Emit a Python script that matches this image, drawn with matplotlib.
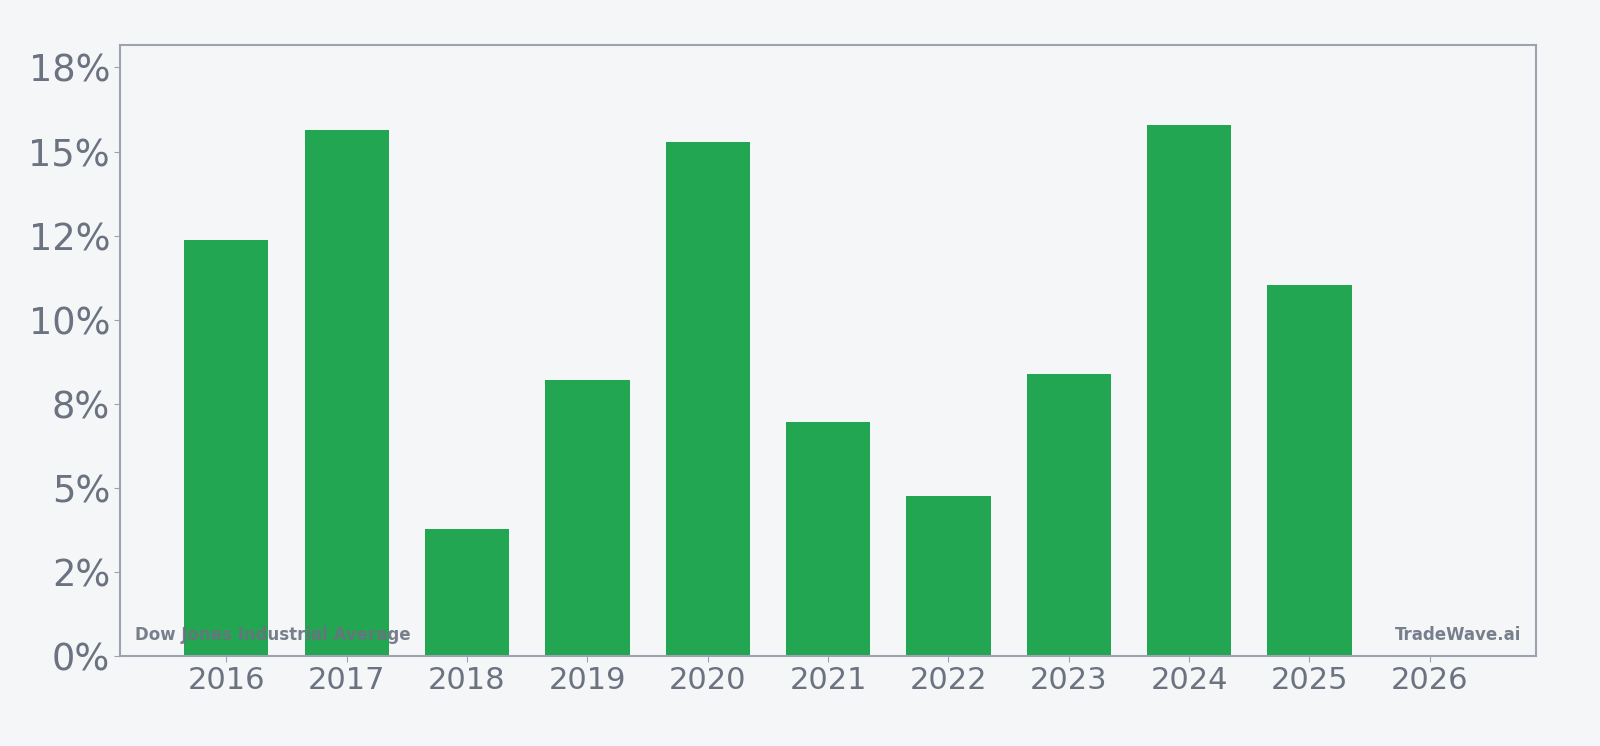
import matplotlib
matplotlib.use("Agg")
import matplotlib.pyplot as plt
from matplotlib.ticker import MultipleLocator, StrMethodFormatter

# yearly returns (%)
years = ["2016", "2017", "2018", "2019", "2020", "2021", "2022", "2023", "2024", "2025", "2026"]
returns = [12.38, 15.63, 3.78, 8.20, 15.27, 6.95, 4.76, 8.38, 15.80, 11.04, 0.0]

bg = "#f4f6f8"
bar_color = "#22a652"
text_color = "#6b7280"
spine_color = "#9ca3af"

fig = plt.figure(figsize=(16, 7.46), dpi=100, facecolor=bg)
ax = fig.add_axes([0.0753, 0.1206, 0.8845, 0.8192])
ax.set_facecolor(bg)

x = list(range(len(years)))
ax.bar(x, returns, width=0.7, color=bar_color, zorder=2)

ax.set_xlim(-0.88, len(years) - 1 + 0.88)
ax.set_ylim(0, max(returns) * 1.15)
ax.set_xticks(x)
ax.set_xticklabels(years)
ax.yaxis.set_major_locator(MultipleLocator(2.5))
ax.yaxis.set_major_formatter(StrMethodFormatter("{x:.0f}%"))

ax.tick_params(axis="y", labelsize=26.5, colors=spine_color, labelcolor=text_color, length=4)
ax.tick_params(axis="x", labelsize=22, colors=spine_color, labelcolor=text_color, length=4)

for s in ax.spines.values():
    s.set_color(spine_color)
    s.set_linewidth(1.5)

# watermarks
ax.text(0.01, 0.02, "Dow Jones Industrial Average", transform=ax.transAxes,
        fontsize=12, fontweight="bold", color=text_color, alpha=0.9,
        ha="left", va="bottom", zorder=3)
ax.text(0.99, 0.02, "TradeWave.ai", transform=ax.transAxes,
        fontsize=12, fontweight="bold", color=text_color, alpha=0.9,
        ha="right", va="bottom", zorder=3)

fig.savefig("out.png", dpi=100, facecolor=bg)
